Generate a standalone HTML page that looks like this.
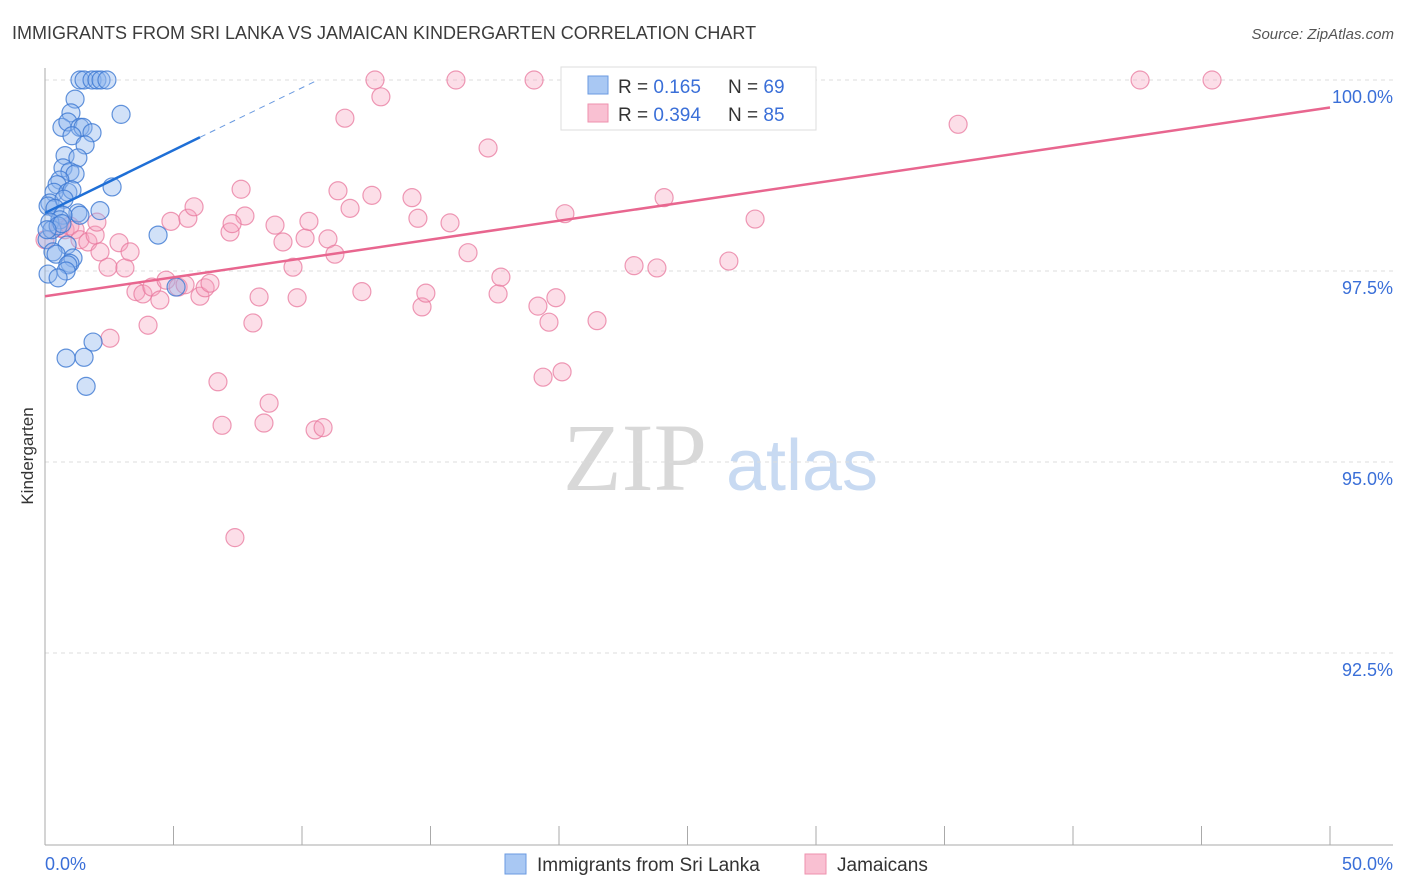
<!DOCTYPE html>
<html><head><meta charset="utf-8"><style>
body{margin:0;background:#fff;font-family:"Liberation Sans",sans-serif}
</style></head><body>
<svg id="chart" width="1406" height="892" xmlns="http://www.w3.org/2000/svg" style="display:block">
<text x="12" y="39" font-size="18" fill="#3c3c3c">IMMIGRANTS FROM SRI LANKA VS JAMAICAN KINDERGARTEN CORRELATION CHART</text>
<text x="1394" y="39" font-size="15" fill="#555" text-anchor="end" font-style="italic">Source: ZipAtlas.com</text>
<g>
<text x="635" y="490" font-size="96" fill="#d8d8d8" font-family="Liberation Serif,serif" text-anchor="middle">ZIP</text>
<text x="802" y="490" font-size="72" fill="#c8daf2" text-anchor="middle">atlas</text>
</g>
<g id="grid"></g>
<g id="axes"></g>
<g id="pts"></g>
<g id="lines"></g>
<text transform="translate(33,456) rotate(-90)" font-size="17" fill="#333" text-anchor="middle">Kindergarten</text>
<text x="45" y="870" font-size="18" fill="#3a6fd8">0.0%</text>
<text x="1393" y="870" font-size="18" fill="#3a6fd8" text-anchor="end">50.0%</text>
<g>
<rect x="561" y="67" width="255" height="63" fill="#fff" stroke="#ddd"/>
<rect x="588" y="76" width="20" height="18" fill="#a9c8f3" stroke="#6a9ae0"/>
<rect x="588" y="104" width="20" height="18" fill="#f9c0d2" stroke="#ee91ae"/>
<text x="618" y="93" font-size="19" fill="#333">R = <tspan fill="#3a6fd8">0.165</tspan></text>
<text x="728" y="93" font-size="19" fill="#333">N = <tspan fill="#3a6fd8">69</tspan></text>
<text x="618" y="121" font-size="19" fill="#333">R = <tspan fill="#3a6fd8">0.394</tspan></text>
<text x="728" y="121" font-size="19" fill="#333">N = <tspan fill="#3a6fd8">85</tspan></text>
</g>
<g>
<rect x="505" y="854" width="21" height="20" fill="#a9c8f3" stroke="#6a9ae0"/>
<text x="537" y="871" font-size="19" fill="#333">Immigrants from Sri Lanka</text>
<rect x="805" y="854" width="21" height="20" fill="#f9c0d2" stroke="#ee91ae"/>
<text x="837" y="871" font-size="19" fill="#333">Jamaicans</text>
</g>
</svg>
<script>
const yTicks=[100,97.5,95,92.5];
const yTickLabels=["100.0%","97.5%","95.0%","92.5%"];
const xTicks=[0,5,10,15,20,25,30,35,40,45,50];
const blueX=[1.36,1.52,1.83,2.02,2.18,2.41,1.17,1.01,2.96,0.66,0.89,1.36,1.48,1.83,1.05,1.56,0.78,1.28,0.70,0.97,1.17,0.58,0.47,2.61,0.35,0.89,1.05,0.19,0.74,0.12,0.39,2.14,1.28,1.36,0.70,0.58,0.19,4.40,0.08,0.86,0.31,0.43,1.09,0.97,0.89,0.82,0.12,0.51,5.10,1.87,0.82,1.52,1.60,0.27,0.51,0.66,0.08];
const blueY=[100,100,100,100,100,100,99.75,99.57,99.55,99.38,99.45,99.38,99.38,99.31,99.27,99.15,99.01,98.98,98.85,98.80,98.77,98.69,98.63,98.60,98.53,98.53,98.56,98.39,98.44,98.35,98.32,98.29,98.26,98.23,98.23,98.17,98.14,97.97,97.91,97.84,97.75,97.72,97.67,97.60,97.58,97.50,97.46,97.41,97.29,96.57,96.36,96.37,95.99,98.04,98.09,98.12,98.04];
const pinkX=[0,0.58,0.78,0.97,1.17,1.36,1.67,1.95,2.14,2.45,2.88,3.11,3.31,2.53,3.54,3.81,4.01,4.16,4.47,4.71,4.90,5.18,5.45,5.56,5.80,6.03,6.23,6.42,6.73,6.89,7.20,7.39,7.63,7.78,8.09,8.33,8.52,8.72,8.95,9.26,9.65,9.81,10.12,10.27,10.51,10.82,11.01,11.28,11.40,11.67,11.87,12.33,12.72,12.84,13.07,14.28,14.51,14.67,14.82,15.76,15.99,16.46,17.24,17.63,17.74,19.03,19.18,19.38,19.61,19.88,20.12,20.23,21.48,22.92,23.81,24.09,26.61,26.50,27.24,27.63,35.53,42.61,45.41,7.28,2.02];
const pinkY=[97.91,98.06,98.04,98.09,98.04,97.91,97.88,97.97,97.75,97.55,97.87,97.54,97.75,96.62,97.23,97.20,96.79,97.29,97.12,97.38,98.15,97.29,97.32,98.19,98.34,97.17,97.28,97.34,96.05,95.48,98.01,94.01,98.57,98.22,96.82,97.16,95.51,95.77,98.10,97.88,97.55,97.15,97.93,98.15,95.42,95.45,97.92,97.72,98.55,99.50,98.32,97.23,98.49,100,99.78,98.46,98.19,97.03,97.21,98.13,100,97.74,99.11,97.20,97.42,100,97.04,96.11,96.83,97.15,96.18,98.25,96.85,97.57,97.54,98.46,97.63,100,100,98.18,99.42,100,100,98.12,98.14];
const blueTrendX=[0,6.03,10.62];
const blueTrendY=[98.26,99.25,100];
const pinkTrendX=[0,50];
const pinkTrendY=[97.17,99.64];
const NS="http://www.w3.org/2000/svg";
const sx=v=>45+v*25.7;
const sy=v=>80+(100-v)/2.5*191;
function mk(tag,attrs,parent){const e=document.createElementNS(NS,tag);for(const k in attrs)e.setAttribute(k,attrs[k]);parent.appendChild(e);return e;}
const grid=document.getElementById('grid'),axes=document.getElementById('axes'),pts=document.getElementById('pts'),lines=document.getElementById('lines');
yTicks.forEach((t,i)=>{
 const l=mk('line',{x1:45,x2:1393,y1:sy(t),y2:sy(t),stroke:'#ddd','stroke-dasharray':'4,4'},grid);
 
 
 const tx=mk('text',{x:1393,y:sy(t)+23,'font-size':18,fill:'#3a6fd8','text-anchor':'end'},grid);
 tx.textContent=yTickLabels[i];
 
 
});
const ya=mk('line',{x1:45,x2:45,y1:68,y2:845,stroke:'#aaa'},axes);


const xa=mk('line',{x1:45,x2:1393,y1:845,y2:845,stroke:'#aaa'},axes);


xTicks.forEach(t=>{
 const l=mk('line',{x1:sx(t),x2:sx(t),y1:826,y2:845,stroke:'#aaa'},axes);
 
 
});
pinkX.forEach((x,i)=>{
 const c=mk('circle',{cx:sx(x),cy:sy(pinkY[i]),r:9,fill:'rgba(246,160,188,0.35)',stroke:'rgba(232,120,158,0.75)','stroke-width':1.2},pts);
 
 
});
blueX.forEach((x,i)=>{
 const c=mk('circle',{cx:sx(x),cy:sy(blueY[i]),r:9,fill:'rgba(140,180,238,0.4)',stroke:'rgba(60,120,210,0.8)','stroke-width':1.2},pts);
 
 
});
const b1=mk('line',{x1:sx(blueTrendX[0]),y1:sy(blueTrendY[0]),x2:sx(blueTrendX[1]),y2:sy(blueTrendY[1]),stroke:'#1f6fd6','stroke-width':2.5},lines);


const b2=mk('line',{x1:sx(blueTrendX[1]),y1:sy(blueTrendY[1]),x2:sx(blueTrendX[2]),y2:sy(blueTrendY[2]),stroke:'#6a9ae0','stroke-width':1,'stroke-dasharray':'6,5'},lines);


const p1=mk('line',{x1:sx(pinkTrendX[0]),y1:sy(pinkTrendY[0]),x2:sx(pinkTrendX[1]),y2:sy(pinkTrendY[1]),stroke:'#e8668f','stroke-width':2.5},lines);


</script>
</body></html>
